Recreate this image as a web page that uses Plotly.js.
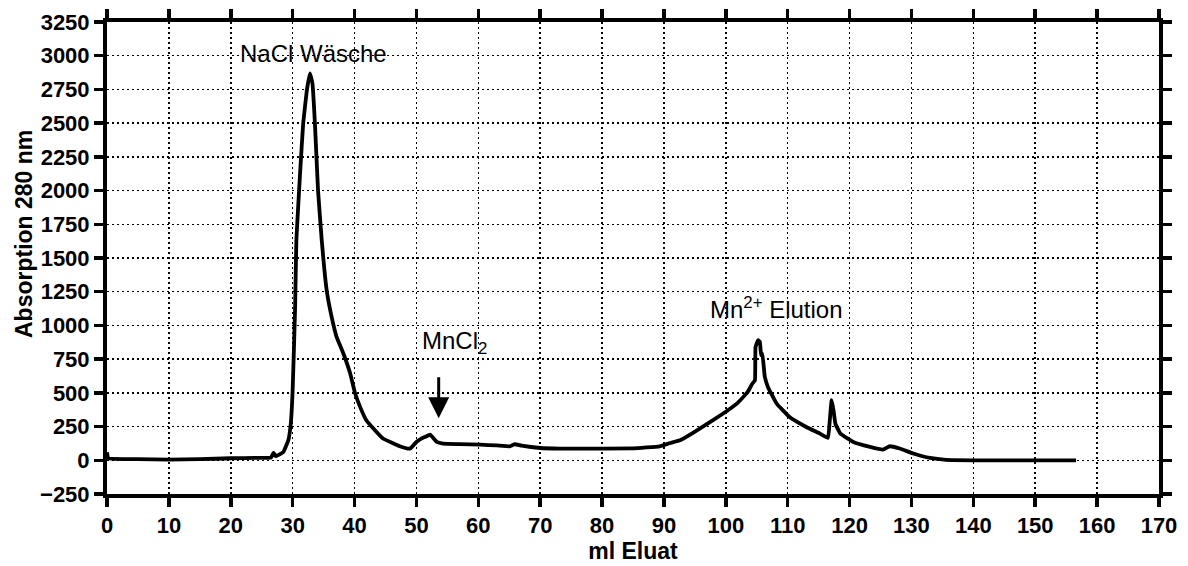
<!DOCTYPE html>
<html>
<head>
<meta charset="utf-8">
<script src="https://cdn.plot.ly/plotly-3.0.1.min.js"></script>
<style>html,body{margin:0;padding:0;background:#fff;}#chart{width:1188px;height:566px;}</style>
</head>
<body>
<div id="chart"></div>
<script>
// Elution volume (ml)
const elutionMl = [
  0, 0.2, 5, 10, 15, 20, 24, 26.5, 26.9, 27.3, 28.5, 29.3, 29.7, 30.0, 30.4, 30.6, 31.2, 31.7, 32.3, 32.8,
  33.2, 33.6, 34.1, 34.7, 35.5, 36.3, 37.1, 38.2, 39.3, 40.1, 40.9, 41.9, 43.3, 44.6, 46.3, 47.3, 48.6, 49.0,
  50.0, 50.8, 51.5, 52.2, 53.3, 54.3, 57, 60.3, 63, 65.1, 65.9, 67, 70.0, 73.2, 79.6, 85, 89.3, 91.0,
  92.6, 94.7, 98.0, 100.0, 102.0, 103.5, 104.3, 104.7, 104.8, 105.2, 105.5, 105.7, 105.9, 106.3, 106.8,
  108.2, 110.3, 113.0, 115.2, 116.5, 116.8, 117.1, 117.4, 117.7, 118.5, 120.6, 123.3, 125.4, 126.5, 128.1,
  130.3, 133.0, 135.6, 140, 145, 150, 156.6
];
// Absorption at 280 nm
const absorption280 = [
  60, 15, 8, 5, 8, 15, 18, 20, 55, 30, 62, 148, 272, 519, 1137, 1632, 2127, 2498, 2745, 2869,
  2794, 2498, 2003, 1632, 1261, 1063, 915, 792, 643, 495, 396, 297, 223, 161, 124, 104, 87, 87,
  136, 161, 175, 190, 136, 124, 120, 116, 110, 104, 119, 108, 91, 87, 87, 88, 104, 128,
  148, 203, 300, 360, 430, 505, 569, 593, 840, 890, 878, 779, 791, 618, 544,
  421, 321, 247, 198, 166, 297, 445, 371, 272, 198, 136, 99, 79, 104, 87,
  50, 17, 3, 0, 0, 0, 0
];
const xTicks = [0,10,20,30,40,50,60,70,80,90,100,110,120,130,140,150,160,170];
const yTicks = [-250,0,250,500,750,1000,1250,1500,1750,2000,2250,2500,2750,3000,3250];
const labels = {
  wash: 'NaCl Wäsche',
  mncl: 'MnCl<sub>2</sub>',
  elution: 'Mn<sup>2+</sup> Elution',
  xTitle: 'ml Eluat',
  yTitle: 'Absorption 280 nm'
};

const fam = 'Liberation Sans, Arial, sans-serif';
const tickFont = {family: fam, size: 22, color: '#000', weight: 'bold'};
const annFont = {family: fam, size: 24, color: '#000'};
const titleFont = {family: fam, size: 23, color: '#000', weight: 'bold'};

const trace = {
  x: elutionMl, y: absorption280, type: 'scatter', mode: 'lines',
  line: {color: '#000', width: 3.8, shape: 'spline', smoothing: 0.3},
  hoverinfo: 'skip'
};

const axisCommon = {
  showline: true, linewidth: 4, linecolor: '#000', mirror: 'ticks',
  ticks: 'outside', ticklen: 9, tickwidth: 3.5, tickcolor: '#000',
  showgrid: true, gridcolor: '#000', gridwidth: 1.5, griddash: '2px,3px',
  zeroline: false, tickfont: tickFont, fixedrange: true
};

const layout = {
  width: 1188, height: 566,
  margin: {l: 107, r: 29, t: 22, b: 72},
  paper_bgcolor: '#fff', plot_bgcolor: '#fff',
  showlegend: false,
  xaxis: Object.assign({}, axisCommon, {
    range: [0, 170], tickmode: 'array', tickvals: xTicks,
    title: {text: labels.xTitle, font: titleFont, standoff: 6}
  }),
  yaxis: Object.assign({}, axisCommon, {
    range: [-250, 3250], tickmode: 'array', tickvals: yTicks
  }),
  annotations: [
    {x: 33.4, y: 3020, xref: 'x', yref: 'y', text: labels.wash, showarrow: false, font: annFont, xanchor: 'center', yanchor: 'middle'},
    {x: 50.5, y: 870, xref: 'x', yref: 'y', text: labels.mncl, showarrow: false, font: annFont, xanchor: 'left', yanchor: 'middle'},
    {x: 53.6, y: 312, ax: 53.6, ay: 690, xref: 'x', yref: 'y', axref: 'x', ayref: 'y', text: ' ', showarrow: true,
     arrowhead: 2, arrowsize: 1.4, arrowwidth: 3, arrowcolor: '#000'},
    {x: 108.2, y: 1130, xref: 'x', yref: 'y', text: labels.elution, showarrow: false, font: annFont, xanchor: 'center', yanchor: 'middle'},
    {x: 0, y: 0, xref: 'paper', yref: 'paper', text: labels.yTitle, showarrow: false, textangle: -90,
     font: titleFont, xanchor: 'center', yanchor: 'middle'}
  ]
};
// y-title position in pixels converted to paper coords
layout.annotations[4].x = (24 - 107) / (1188 - 107 - 29);
layout.annotations[4].y = 1 - (234 - 22) / (566 - 22 - 72);

Plotly.newPlot('chart', [trace], layout, {displayModeBar: false, staticPlot: true});
</script>
</body>
</html>
